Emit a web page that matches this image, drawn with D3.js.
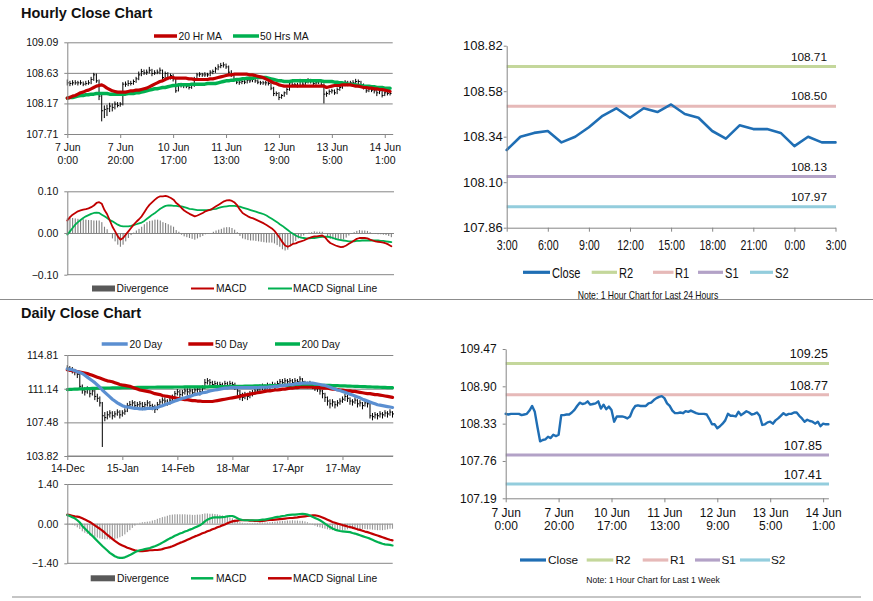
<!DOCTYPE html>
<html><head><meta charset="utf-8">
<script src="https://cdn.jsdelivr.net/npm/d3@7"></script>
<style>
body{margin:0;background:#fff;}
svg text{font-family:"Liberation Sans",Arial,sans-serif;fill:#111;}
</style></head><body>
<script>
// ---------------- DATA ----------------
const hourTickIdx = [0,20,40,60,80,100,120];
const hourTickLabels = [["7 Jun","0:00"],["7 Jun","20:00"],["10 Jun","17:00"],["11 Jun","13:00"],["12 Jun","9:00"],["13 Jun","5:00"],["14 Jun","1:00"]];
const dayTickIdx = [0,22,44,66,88,110];
const dayTickLabels = ["14-Dec","15-Jan","14-Feb","18-Mar","17-Apr","17-May"];
const h24TickIdx = [0,3,6,9,12,15,18,21,24];
const h24TickLabels = ["3:00","6:00","9:00","12:00","15:00","18:00","21:00","0:00","3:00"];

const hourlyYTicks = [107.71,108.17,108.63,109.09];
const hourlyMacdTicks = [-0.10,0.00,0.10];
const h24YTicks = [107.86,108.10,108.34,108.58,108.82];
const weekYTicks = [107.19,107.76,108.33,108.90,109.47];
const dailyYTicks = [103.82,107.48,111.14,114.81];
const dailyMacdTicks = [-1.40,0.00,1.40];

const levelNames = ["R2","R1","S1","S2"];
const levels24 = [108.71,108.50,108.13,107.97];
const levelsWeek = [109.25,108.77,107.85,107.41];

const hourlyClose = [108.48,108.47,108.48,108.48,108.48,108.48,108.46,108.47,108.48,108.53,
108.60,108.51,108.28,108.06,108.08,108.09,108.13,108.11,108.16,108.14,
108.16,108.46,108.46,108.47,108.47,108.50,108.54,108.60,108.65,108.63,
108.64,108.67,108.62,108.63,108.64,108.67,108.56,108.62,108.55,108.59,
108.54,108.36,108.44,108.44,108.44,108.43,108.41,108.44,108.54,108.60,
108.61,108.60,108.60,108.60,108.64,108.65,108.69,108.72,108.74,108.75,
108.72,108.64,108.60,108.53,108.49,108.49,108.50,108.49,108.52,108.51,
108.53,108.51,108.49,108.48,108.48,108.48,108.47,108.40,108.32,108.32,
108.26,108.29,108.33,108.38,108.48,108.45,108.45,108.44,108.51,108.46,
108.49,108.52,108.50,108.47,108.48,108.50,108.45,108.31,108.32,108.35,
108.36,108.33,108.38,108.41,108.45,108.49,108.46,108.48,108.48,108.50,
108.50,108.45,108.41,108.36,108.39,108.37,108.36,108.33,108.36,108.29,
108.33,108.32,108.32];
const hourlyHigh = [108.53,108.51,108.52,108.52,108.51,108.52,108.50,108.51,108.52,108.57,
108.63,108.62,108.53,108.30,108.14,108.15,108.18,108.17,108.20,108.19,
108.19,108.49,108.50,108.52,108.51,108.53,108.57,108.65,108.69,108.68,
108.68,108.72,108.69,108.67,108.68,108.71,108.68,108.65,108.64,108.62,
108.61,108.56,108.47,108.48,108.47,108.46,108.45,108.47,108.57,108.63,
108.64,108.63,108.64,108.63,108.67,108.68,108.72,108.76,108.78,108.79,
108.77,108.74,108.67,108.62,108.55,108.52,108.53,108.53,108.55,108.54,
108.56,108.55,108.53,108.51,108.51,108.51,108.50,108.49,108.42,108.35,
108.34,108.31,108.35,108.41,108.51,108.50,108.48,108.48,108.54,108.53,
108.52,108.55,108.54,108.52,108.51,108.53,108.52,108.47,108.35,108.38,
108.39,108.38,108.41,108.44,108.48,108.52,108.51,108.51,108.52,108.54,
108.53,108.51,108.47,108.43,108.42,108.40,108.40,108.38,108.39,108.37,
108.35,108.35,108.35];
const hourlyLow = [108.44,108.43,108.44,108.45,108.44,108.45,108.43,108.44,108.45,108.46,
108.51,108.48,108.22,107.90,107.95,107.98,108.04,108.05,108.08,108.11,
108.12,108.14,108.42,108.43,108.44,108.45,108.48,108.52,108.58,108.60,
108.60,108.62,108.58,108.60,108.61,108.61,108.53,108.54,108.52,108.53,
108.50,108.33,108.35,108.41,108.40,108.40,108.38,108.39,108.42,108.52,
108.57,108.57,108.57,108.57,108.58,108.61,108.63,108.67,108.70,108.71,
108.69,108.61,108.57,108.50,108.46,108.45,108.46,108.46,108.47,108.48,
108.49,108.48,108.46,108.45,108.45,108.44,108.44,108.37,108.28,108.28,
108.22,108.24,108.27,108.30,108.36,108.43,108.42,108.41,108.42,108.44,
108.45,108.47,108.47,108.44,108.45,108.46,108.42,108.17,108.27,108.30,
108.32,108.30,108.31,108.36,108.39,108.43,108.43,108.44,108.45,108.46,
108.46,108.42,108.38,108.33,108.34,108.34,108.32,108.28,108.31,108.26,
108.28,108.29,108.29];
const hourlyMA20 = [108.25,108.26,108.28,108.29,108.31,108.33,108.34,108.36,108.37,108.39,
108.41,108.43,108.44,108.45,108.43,108.40,108.38,108.36,108.35,108.34,
108.34,108.34,108.34,108.35,108.36,108.36,108.37,108.37,108.38,108.39,
108.40,108.42,108.44,108.46,108.48,108.50,108.51,108.53,108.55,108.56,
108.56,108.55,108.55,108.55,108.55,108.55,108.54,108.54,108.53,108.53,
108.53,108.53,108.53,108.53,108.54,108.54,108.55,108.56,108.57,108.58,
108.59,108.60,108.60,108.61,108.61,108.61,108.61,108.61,108.61,108.60,
108.60,108.59,108.58,108.57,108.56,108.54,108.52,108.50,108.48,108.47,
108.45,108.44,108.43,108.43,108.43,108.43,108.43,108.43,108.43,108.43,
108.43,108.43,108.43,108.43,108.43,108.43,108.43,108.43,108.41,108.42,
108.43,108.44,108.44,108.44,108.45,108.45,108.45,108.45,108.44,108.43,
108.43,108.42,108.41,108.41,108.40,108.40,108.39,108.39,108.38,108.38,
108.37,108.36,108.35];
const hourlyMA50 = [108.25,108.26,108.26,108.27,108.28,108.29,108.29,108.30,108.30,108.31,
108.31,108.32,108.32,108.32,108.32,108.32,108.31,108.31,108.31,108.31,
108.31,108.31,108.31,108.32,108.32,108.32,108.33,108.33,108.34,108.35,
108.36,108.37,108.38,108.39,108.39,108.40,108.41,108.41,108.42,108.43,
108.44,108.44,108.45,108.45,108.45,108.45,108.45,108.46,108.46,108.46,
108.46,108.46,108.46,108.47,108.47,108.47,108.47,108.48,108.49,108.50,
108.51,108.51,108.52,108.52,108.53,108.53,108.54,108.54,108.55,108.55,
108.55,108.56,108.56,108.56,108.56,108.56,108.55,108.54,108.53,108.52,
108.51,108.51,108.50,108.50,108.50,108.51,108.51,108.51,108.51,108.51,
108.51,108.51,108.51,108.51,108.51,108.51,108.51,108.50,108.50,108.50,
108.50,108.49,108.49,108.48,108.48,108.47,108.46,108.46,108.45,108.45,
108.44,108.44,108.43,108.43,108.43,108.42,108.42,108.41,108.41,108.41,
108.40,108.40,108.40];
const hourlyMACD = [0.030,0.038,0.044,0.048,0.052,0.054,0.056,0.057,0.059,0.062,
0.066,0.072,0.074,0.070,0.055,0.045,0.030,0.015,0.004,-0.008,
-0.016,-0.012,-0.004,0.004,0.012,0.020,0.027,0.033,0.040,0.050,
0.060,0.068,0.074,0.080,0.085,0.088,0.088,0.089,0.087,0.084,
0.080,0.072,0.067,0.060,0.054,0.050,0.046,0.043,0.040,0.042,
0.045,0.048,0.052,0.054,0.056,0.060,0.064,0.068,0.072,0.076,
0.078,0.079,0.077,0.073,0.066,0.056,0.048,0.044,0.040,0.037,
0.035,0.032,0.029,0.026,0.023,0.019,0.015,0.011,0.005,-0.003,
-0.012,-0.022,-0.030,-0.033,-0.030,-0.026,-0.025,-0.022,-0.020,-0.018,
-0.015,-0.012,-0.010,-0.008,-0.008,-0.007,-0.006,-0.010,-0.018,-0.024,
-0.027,-0.030,-0.032,-0.034,-0.033,-0.030,-0.026,-0.022,-0.018,-0.014,
-0.012,-0.012,-0.012,-0.013,-0.016,-0.018,-0.020,-0.021,-0.022,-0.023,
-0.025,-0.028,-0.032];
const hourlySignal = [-0.004,0.004,0.012,0.020,0.026,0.031,0.036,0.040,0.043,0.046,
0.048,0.049,0.048,0.044,0.040,0.036,0.031,0.028,0.024,0.020,
0.017,0.016,0.016,0.016,0.017,0.019,0.021,0.023,0.025,0.029,
0.034,0.039,0.044,0.048,0.053,0.058,0.062,0.065,0.066,0.066,
0.065,0.065,0.064,0.064,0.062,0.060,0.058,0.057,0.056,0.055,
0.055,0.055,0.055,0.055,0.056,0.057,0.058,0.060,0.062,0.063,
0.064,0.065,0.065,0.065,0.064,0.063,0.061,0.059,0.057,0.055,
0.053,0.051,0.049,0.047,0.045,0.042,0.038,0.034,0.030,0.026,
0.021,0.017,0.012,0.007,0.002,-0.002,-0.006,-0.009,-0.011,-0.012,
-0.013,-0.013,-0.012,-0.012,-0.011,-0.010,-0.009,-0.009,-0.009,-0.010,
-0.012,-0.014,-0.016,-0.017,-0.018,-0.019,-0.020,-0.020,-0.020,-0.019,
-0.019,-0.018,-0.018,-0.018,-0.018,-0.018,-0.018,-0.018,-0.019,-0.019,
-0.020,-0.021,-0.022];
const hourlyDiv = [0.035,0.036,0.036,0.035,0.034,0.033,0.033,0.032,0.031,0.031,
0.030,0.030,0.030,0.026,0.015,0.009,-0.001,-0.013,-0.020,-0.028,
-0.033,-0.028,-0.020,-0.012,-0.005,0.001,0.006,0.010,0.015,0.021,
0.026,0.029,0.030,0.032,0.032,0.030,0.026,0.024,0.021,0.018,
0.015,0.007,0.003,-0.004,-0.008,-0.010,-0.012,-0.014,-0.016,-0.013,
-0.010,-0.007,-0.003,-0.001,0.000,0.003,0.006,0.008,0.010,0.013,
0.014,0.014,0.012,0.008,0.002,-0.007,-0.013,-0.015,-0.017,-0.018,
-0.018,-0.019,-0.020,-0.021,-0.022,-0.023,-0.023,-0.023,-0.025,-0.029,
-0.033,-0.039,-0.042,-0.040,-0.032,-0.024,-0.019,-0.013,-0.009,-0.006,
-0.002,0.001,0.002,0.004,0.003,0.003,0.003,-0.001,-0.009,-0.014,
-0.015,-0.016,-0.016,-0.017,-0.015,-0.011,-0.006,-0.002,0.002,0.005,
0.007,0.006,0.006,0.005,0.002,0.000,-0.002,-0.003,-0.003,-0.004,
-0.005,-0.007,-0.010];

const close24 = [108.27,108.34,108.36,108.37,108.31,108.34,108.39,108.45,108.49,108.44,
108.49,108.47,108.51,108.46,108.44,108.37,108.33,108.40,108.38,108.38,
108.36,108.29,108.34,108.31,108.31];

const dailyHigh = [113.7,113.6,113.5,113.3,113.1,112.8,111.6,111.3,111.4,111.3,
111.2,111.0,110.6,110.3,109.7,108.6,108.7,108.8,108.7,108.7,
108.9,108.8,108.8,109.0,109.6,109.8,109.9,109.8,109.7,109.8,
109.7,109.7,109.9,109.8,109.5,109.4,109.7,110.0,110.2,110.2,
110.0,110.2,110.5,110.9,111.1,111.0,111.0,111.2,111.2,111.2,
111.1,111.3,111.4,111.3,111.5,112.2,112.3,112.2,112.0,112.0,
111.9,111.9,111.8,112.0,111.9,112.0,111.9,111.8,111.5,111.0,
110.7,110.8,110.7,110.9,111.0,111.2,111.3,111.6,111.7,111.6,
111.8,111.7,111.9,111.8,112.0,112.2,112.2,112.3,112.2,112.3,
112.2,112.3,112.2,112.5,112.3,112.0,111.9,112.0,111.8,111.7,
111.5,111.3,111.0,110.7,110.3,110.0,110.0,109.8,109.9,110.1,
110.3,110.6,110.5,110.2,110.0,110.2,110.0,109.9,109.7,109.9,
109.8,109.6,108.5,108.6,108.5,108.7,108.6,108.8,108.7,108.9,
108.7];
const dailyLow = [113.1,113.0,112.8,112.6,112.3,111.1,110.6,110.4,110.6,110.2,
110.4,109.9,109.7,109.2,104.8,107.6,107.8,108.0,107.8,108.0,
108.2,107.9,108.1,108.3,108.6,109.0,109.2,108.9,109.0,109.1,
108.8,109.0,109.2,108.9,108.8,108.5,108.8,109.3,109.5,109.4,
109.3,109.4,109.8,110.0,110.4,110.2,110.3,110.5,110.4,110.5,
110.3,110.5,110.7,110.4,110.7,111.1,111.6,111.5,111.3,111.3,
111.1,111.2,111.0,111.2,111.1,111.3,111.2,111.0,110.4,109.9,
109.8,110.0,109.9,110.1,110.3,110.5,110.6,110.8,111.0,110.9,
111.1,111.0,111.2,111.1,111.3,111.5,111.5,111.6,111.6,111.7,
111.5,111.6,111.6,111.8,111.5,111.3,111.2,111.3,111.1,110.9,
110.8,110.5,110.1,109.7,109.3,109.0,109.2,109.0,109.2,109.4,
109.6,109.8,109.7,109.4,109.3,109.5,109.1,109.2,108.9,109.2,
109.1,107.9,107.7,107.9,107.8,108.0,107.9,108.1,108.0,108.2,
108.0];
const dailyClose = [113.4,113.3,113.1,112.9,112.7,111.4,111.0,110.8,111.1,110.6,
110.9,110.3,110.1,109.6,108.2,108.0,108.3,108.5,108.2,108.4,
108.6,108.3,108.5,108.7,109.3,109.4,109.6,109.3,109.4,109.5,
109.2,109.4,109.6,109.3,109.2,108.9,109.4,109.7,109.9,109.8,
109.6,109.9,110.2,110.6,110.8,110.5,110.7,110.9,110.8,110.9,
110.7,111.0,111.1,110.8,111.2,111.8,112.0,111.8,111.6,111.7,
111.5,111.6,111.4,111.7,111.5,111.7,111.6,111.4,110.9,110.5,
110.2,110.5,110.3,110.6,110.7,110.9,111.0,111.3,111.4,111.2,
111.5,111.3,111.6,111.4,111.7,111.9,111.8,112.0,111.9,112.0,
111.8,112.0,111.9,112.2,111.9,111.7,111.6,111.7,111.5,111.3,
111.2,110.9,110.6,110.2,109.8,109.5,109.7,109.4,109.6,109.8,
110.0,110.3,110.1,109.8,109.7,109.9,109.5,109.6,109.3,109.6,
109.5,108.2,108.1,108.3,108.2,108.4,108.3,108.5,108.4,108.6,
108.4];
const dailyMA20 = [113.3,113.25,113.2,113.1,113.0,112.9,112.8,112.6,112.4,112.2,
112.0,111.8,111.55,111.3,111.0,110.75,110.5,110.25,110.0,109.8,
109.6,109.45,109.3,109.2,109.15,109.1,109.05,109.0,109.0,108.95,
108.95,108.95,109.0,109.0,109.0,109.05,109.1,109.2,109.3,109.4,
109.5,109.6,109.7,109.8,109.9,110.0,110.1,110.15,110.25,110.3,
110.4,110.5,110.55,110.6,110.7,110.75,110.8,110.9,110.95,111.0,
111.05,111.1,111.15,111.2,111.2,111.25,111.25,111.25,111.25,111.25,
111.25,111.25,111.25,111.25,111.25,111.25,111.25,111.3,111.3,111.3,
111.3,111.35,111.35,111.4,111.4,111.45,111.5,111.5,111.55,111.6,
111.6,111.65,111.7,111.7,111.75,111.75,111.75,111.75,111.75,111.7,
111.65,111.6,111.55,111.5,111.4,111.3,111.2,111.1,111.0,110.95,
110.85,110.75,110.65,110.55,110.45,110.35,110.25,110.15,110.0,109.9,
109.8,109.7,109.6,109.5,109.4,109.35,109.3,109.25,109.2,109.15,
109.1];
const dailyMA50 = [113.2,113.15,113.1,113.05,113.0,112.95,112.9,112.85,112.8,112.7,
112.6,112.5,112.4,112.3,112.2,112.1,112.0,111.95,111.9,111.8,
111.7,111.6,111.55,111.5,111.45,111.4,111.3,111.2,111.1,111.0,
110.95,110.9,110.85,110.8,110.7,110.6,110.55,110.5,110.4,110.35,
110.3,110.25,110.2,110.15,110.1,110.05,110.0,109.95,109.95,109.9,
109.85,109.85,109.8,109.8,109.75,109.75,109.75,109.75,109.75,109.8,
109.85,109.9,109.95,110.0,110.05,110.1,110.15,110.2,110.25,110.3,
110.4,110.45,110.5,110.55,110.6,110.65,110.7,110.75,110.8,110.85,
110.9,110.9,110.95,111.0,111.0,111.05,111.1,111.1,111.15,111.2,
111.2,111.25,111.25,111.3,111.3,111.3,111.3,111.3,111.3,111.25,
111.25,111.25,111.2,111.2,111.2,111.15,111.1,111.1,111.05,111.0,
111.0,110.95,110.9,110.9,110.85,110.85,110.8,110.75,110.7,110.65,
110.6,110.6,110.55,110.5,110.5,110.45,110.4,110.35,110.3,110.25,
110.2];
const dailyMA200 = [111.05,111.07,111.08,111.10,111.10,111.12,111.13,111.14,111.15,111.16,
111.17,111.18,111.19,111.20,111.20,111.21,111.22,111.22,111.23,111.23,
111.24,111.24,111.25,111.25,111.26,111.26,111.27,111.27,111.28,111.28,
111.29,111.29,111.29,111.30,111.30,111.30,111.31,111.31,111.31,111.32,
111.32,111.32,111.32,111.33,111.33,111.33,111.33,111.34,111.34,111.34,
111.34,111.34,111.35,111.35,111.35,111.35,111.35,111.36,111.36,111.36,
111.36,111.37,111.37,111.38,111.38,111.39,111.39,111.40,111.40,111.41,
111.41,111.42,111.42,111.43,111.43,111.44,111.44,111.45,111.45,111.46,
111.46,111.47,111.47,111.48,111.48,111.49,111.50,111.50,111.51,111.51,
111.52,111.52,111.53,111.53,111.54,111.54,111.54,111.54,111.54,111.53,
111.53,111.52,111.52,111.51,111.50,111.50,111.49,111.48,111.47,111.46,
111.45,111.44,111.43,111.42,111.41,111.40,111.39,111.38,111.37,111.36,
111.35,111.34,111.33,111.32,111.31,111.30,111.29,111.28,111.27,111.26,
111.25];
const dailyMACD = [0.30,0.27,0.23,0.19,0.12,0.04,-0.08,-0.17,-0.26,-0.35,
-0.43,-0.52,-0.61,-0.70,-0.79,-0.87,-0.95,-1.03,-1.09,-1.15,
-1.19,-1.21,-1.21,-1.19,-1.15,-1.11,-1.06,-1.01,-0.97,-0.94,
-0.92,-0.90,-0.88,-0.86,-0.83,-0.80,-0.76,-0.72,-0.67,-0.62,
-0.57,-0.52,-0.48,-0.43,-0.39,-0.35,-0.32,-0.28,-0.25,-0.21,
-0.18,-0.14,-0.10,-0.06,0.00,0.08,0.14,0.18,0.21,0.22,
0.22,0.22,0.23,0.24,0.26,0.27,0.27,0.24,0.19,0.15,
0.13,0.12,0.12,0.12,0.12,0.12,0.12,0.13,0.14,0.14,
0.16,0.18,0.20,0.22,0.24,0.25,0.27,0.28,0.30,0.31,
0.32,0.32,0.33,0.34,0.35,0.34,0.32,0.29,0.24,0.20,
0.16,0.12,0.06,0.00,-0.06,-0.12,-0.17,-0.21,-0.24,-0.26,
-0.27,-0.28,-0.29,-0.30,-0.33,-0.35,-0.38,-0.41,-0.44,-0.47,
-0.50,-0.53,-0.57,-0.61,-0.65,-0.68,-0.71,-0.73,-0.74,-0.75,
-0.77];
const dailySignal = [0.32,0.30,0.28,0.26,0.25,0.23,0.19,0.15,0.10,0.06,
0.00,-0.06,-0.12,-0.18,-0.25,-0.32,-0.40,-0.47,-0.54,-0.61,
-0.67,-0.73,-0.77,-0.81,-0.85,-0.88,-0.91,-0.94,-0.96,-0.97,
-0.97,-0.96,-0.95,-0.94,-0.94,-0.93,-0.93,-0.92,-0.90,-0.87,
-0.85,-0.83,-0.80,-0.76,-0.72,-0.68,-0.65,-0.61,-0.57,-0.53,
-0.49,-0.45,-0.42,-0.38,-0.34,-0.31,-0.27,-0.24,-0.20,-0.17,
-0.13,-0.10,-0.06,-0.03,0.01,0.05,0.08,0.10,0.11,0.12,
0.12,0.12,0.12,0.11,0.11,0.10,0.10,0.09,0.10,0.11,
0.12,0.13,0.13,0.14,0.15,0.16,0.17,0.18,0.19,0.20,
0.20,0.21,0.22,0.24,0.25,0.26,0.27,0.28,0.29,0.29,
0.28,0.25,0.22,0.18,0.14,0.10,0.06,0.03,0.00,-0.02,
-0.05,-0.07,-0.10,-0.12,-0.14,-0.17,-0.20,-0.22,-0.25,-0.28,
-0.30,-0.33,-0.36,-0.39,-0.42,-0.45,-0.48,-0.51,-0.54,-0.57,
-0.59];
const dailyDiv = [-0.02,-0.03,-0.05,-0.07,-0.13,-0.19,-0.27,-0.32,-0.36,-0.41,
-0.43,-0.46,-0.49,-0.52,-0.54,-0.55,-0.55,-0.56,-0.55,-0.54,
-0.52,-0.48,-0.44,-0.38,-0.30,-0.23,-0.15,-0.07,-0.01,0.03,
0.05,0.06,0.07,0.08,0.11,0.13,0.17,0.20,0.23,0.25,
0.28,0.31,0.32,0.33,0.33,0.33,0.33,0.33,0.32,0.32,
0.31,0.31,0.32,0.32,0.34,0.36,0.36,0.35,0.35,0.34,
0.33,0.31,0.29,0.27,0.25,0.22,0.19,0.14,0.09,0.05,
0.03,0.02,0.02,0.02,0.02,0.03,0.03,0.04,0.04,0.04,
0.04,0.05,0.06,0.07,0.08,0.09,0.10,0.10,0.11,0.11,
0.12,0.11,0.11,0.10,0.10,0.08,0.05,0.02,-0.03,-0.07,
-0.11,-0.13,-0.16,-0.18,-0.20,-0.22,-0.23,-0.24,-0.24,-0.24,
-0.23,-0.22,-0.20,-0.18,-0.19,-0.19,-0.19,-0.19,-0.19,-0.19,
-0.20,-0.20,-0.21,-0.22,-0.23,-0.23,-0.23,-0.22,-0.20,-0.18,
-0.18];

// ---------------- STYLE ----------------
const GRID = "#868686";
const RED = "#c00000", GREEN = "#00b050", BLUE = "#5b8fd1", CLOSE = "#1f6eb4", DIVC = "#7f7f7f";
const levelColors = ["#c4d79b","#e6b9b8","#b3a2c7","#93cddd"];

const svg = d3.select("body").append("svg").attr("width",873).attr("height",601);

function styleAxis(g, fs){
  g.attr("font-family",null).attr("font-size",null);
  g.select(".domain").attr("stroke",GRID);
  g.selectAll(".tick line").attr("stroke",GRID);
  g.selectAll(".tick text").attr("fill","#111").style("font-size",fs+"px");
}
function leftAxis(y, x0, ticks, fmt, fs, pad){
  const g = svg.append("g").attr("transform",`translate(${x0},0)`)
    .call(d3.axisLeft(y).tickValues(ticks).tickFormat(fmt).tickSize(3).tickSizeOuter(0).tickPadding(pad===undefined?6:pad));
  styleAxis(g, fs);
  return g;
}
function gridLines(y, x0, x1, vals){
  const g = svg.append("g").attr("transform",`translate(${x0},0)`)
    .call(d3.axisLeft(y).tickValues(vals).tickSize(-(x1-x0)).tickFormat(()=>"").tickSizeOuter(0));
  g.select(".domain").remove();
  g.selectAll("line").attr("stroke",GRID);
}
function bottomAxis(x, yPos, ticks, labels, fs, lh, pad){
  const g = svg.append("g").attr("transform",`translate(0,${yPos})`)
    .call(d3.axisBottom(x).tickValues(ticks).tickSize(4).tickSizeOuter(0).tickPadding(pad).tickFormat(()=>""));
  styleAxis(g, fs);
  g.selectAll(".tick text").attr("dy",null).each(function(d,i){
    const t = d3.select(this);
    const lab = labels[i];
    const lines = Array.isArray(lab) ? lab : [lab];
    lines.forEach((s,k)=> t.append("tspan").attr("x",0).attr("dy", k===0 ? "0.71em" : lh).text(s));
  });
  return g;
}
function drawLine(x, y, data, color, w){
  svg.append("path").datum(data).attr("fill","none").attr("stroke",color).attr("stroke-width",w)
    .attr("stroke-linejoin","round").attr("stroke-linecap","round")
    .attr("d", d3.line().x((d,i)=>x(i)).y(d=>y(d)));
}
function ohlc(x, y, hi, lo, cl){
  const g = svg.append("g");
  g.selectAll("line.hl").data(hi).join("line").attr("class","hl")
    .attr("x1",(d,i)=>x(i)).attr("x2",(d,i)=>x(i))
    .attr("y1",d=>y(d)).attr("y2",(d,i)=>y(lo[i])).attr("stroke","#000").attr("stroke-width",1);
  g.selectAll("line.cl").data(cl).join("line").attr("class","cl")
    .attr("x1",(d,i)=>x(i)).attr("x2",(d,i)=>x(i)+1.5)
    .attr("y1",d=>y(d)).attr("y2",d=>y(d)).attr("stroke","#000").attr("stroke-width",1);
}
function histo(x, y, data, color, w){
  svg.append("g").selectAll("rect").data(data).join("rect")
    .attr("x",(d,i)=>x(i)-w/2).attr("width",w)
    .attr("y",d=>Math.min(y(d),y(0))).attr("height",d=>Math.abs(y(d)-y(0)))
    .attr("fill",color);
}
function label(x, y, s, fs, anchor, opts={}){
  const t = svg.append("text").attr("x",x).attr("y",y).style("font-size",fs+"px")
    .attr("text-anchor",anchor||"start").text(s);
  if(opts.bold) t.style("font-weight","bold");
  return t;
}
function legLine(x1, x2, y, color, w, text, tx, fs){
  svg.append("line").attr("x1",x1).attr("x2",x2).attr("y1",y).attr("y2",y).attr("stroke",color).attr("stroke-width",w);
  label(tx, y+fs*0.36, text, fs);
}
function legRect(x1, x2, y, color, text, tx, fs){
  svg.append("rect").attr("x",x1).attr("y",y-3).attr("width",x2-x1).attr("height",6).attr("fill",color);
  label(tx, y+fs*0.36, text, fs);
}
const f2 = d3.format(".2f");

// ---------------- TITLES & SEPARATORS ----------------
label(21, 18, "Hourly Close Chart", 14.5, "start", {bold:true});
label(21, 318, "Daily Close Chart", 14.5, "start", {bold:true});
svg.append("line").attr("x1",0).attr("x2",873).attr("y1",299.5).attr("y2",299.5).attr("stroke","#8c8c8c").attr("stroke-width",1.2);
svg.append("line").attr("x1",12).attr("x2",861).attr("y1",597).attr("y2",597).attr("stroke","#8c8c8c").attr("stroke-width",1.2);

// ---------------- PANEL 1: hourly close ----------------
{
  const x = d3.scaleLinear().domain([0,123]).range([67.3,392.7]);
  const y = d3.scaleLinear().domain([107.71,109.09]).range([134,42.3]);
  gridLines(y, 67.3, 392.7, [108.17,108.63,109.09]);
  ohlc(x, y, hourlyHigh, hourlyLow, hourlyClose);
  drawLine(x, y, hourlyMA50, GREEN, 3.5);
  drawLine(x, y, hourlyMA20, RED, 3.2);
  leftAxis(y, 67.3, hourlyYTicks, f2, 10.5);
  bottomAxis(x, 134, hourTickIdx, hourTickLabels, 10.5, 12.5, 6);
  legLine(154, 177, 36, RED, 3.5, "20 Hr MA", 178.5, 10.3);
  legLine(233, 259, 36, GREEN, 3.5, "50 Hrs MA", 260, 10.3);
}

// ---------------- PANEL 2: hourly MACD ----------------
{
  const x = d3.scaleLinear().domain([0,123]).range([67.3,394]);
  const y = d3.scaleLinear().domain([-0.10,0.10]).range([274.7,191.3]);
  gridLines(y, 67.3, 394, [0,0.10]);
  histo(x, y, hourlyDiv, DIVC, 1.1);
  drawLine(x, y, hourlySignal, GREEN, 1.8);
  drawLine(x, y, hourlyMACD, RED, 1.8);
  leftAxis(y, 67.3, hourlyMacdTicks, f2, 10.5);
  svg.append("line").attr("x1",67.3).attr("x2",394).attr("y1",274.7).attr("y2",274.7).attr("stroke",GRID);
  legRect(92, 115, 288.5, "#595959", "Divergence", 116.5, 10.3);
  legLine(191, 214, 288.5, RED, 2, "MACD", 216, 10.3);
  legLine(268, 292, 288.5, GREEN, 2, "MACD Signal Line", 293, 10.3);
}

// ---------------- PANEL 3: last 24 hours ----------------
{
  const x = d3.scaleLinear().domain([0,24]).range([506.7,835.5]);
  const y = d3.scaleLinear().domain([107.86,108.82]).range([227.7,45.7]);
  levels24.forEach((v,k)=>{
    svg.append("line").attr("x1",506.7).attr("x2",836).attr("y1",y(v)).attr("y2",y(v))
      .attr("stroke",levelColors[k]).attr("stroke-width",3);
    label(827, y(v)-6, f2(v), 11.8, "end");
  });
  drawLine(x, y, close24, CLOSE, 2.6);
  leftAxis(y, 506.7, h24YTicks, f2, 13, 1);
  const ax = bottomAxis(x, 227.7, h24TickIdx, h24TickLabels, 14, 14, 8);
  ax.selectAll(".tick text").attr("transform","scale(0.76,1)");
  const items = [["Close",CLOSE,523,550,552],["R2",levelColors[0],591.7,617,619],["R1",levelColors[1],653,673.5,675],["S1",levelColors[2],698,723,725],["S2",levelColors[3],750,773,775]];
  items.forEach(([t,c,a,b,tx])=>{
    svg.append("line").attr("x1",a).attr("x2",b).attr("y1",272.3).attr("y2",272.3).attr("stroke",c).attr("stroke-width",3.2);
    svg.append("text").attr("transform",`translate(${tx},277.5) scale(0.74,1)`).style("font-size","15px").text(t);
  });
  svg.append("text").attr("transform","translate(648,299) scale(0.82,1)").attr("text-anchor","middle").style("font-size","10.5px").text("Note: 1 Hour Chart for Last 24 Hours");
}

// ---------------- PANEL 4: daily close ----------------
{
  const x = d3.scaleLinear().domain([0,130]).range([67.3,392.5]);
  const y = d3.scaleLinear().domain([103.82,114.81]).range([456,355]);
  gridLines(y, 67.3, 393.3, [107.48,111.14,114.81]);
  ohlc(x, y, dailyHigh, dailyLow, dailyClose);
  drawLine(x, y, dailyMA200, GREEN, 3.2);
  drawLine(x, y, dailyMA50, RED, 3.2);
  drawLine(x, y, dailyMA20, BLUE, 3.2);
  leftAxis(y, 67.3, dailyYTicks, f2, 10.5);
  svg.append("line").attr("x1",67.3).attr("x2",393.3).attr("y1",456).attr("y2",456).attr("stroke",GRID);
  bottomAxis(x, 456, dayTickIdx, dayTickLabels, 10.5, 12, 5);
  legLine(101.7, 127.7, 344, BLUE, 3.5, "20 Day", 129.5, 10.3);
  legLine(188.3, 213.3, 344, RED, 3.5, "50 Day", 215, 10.3);
  legLine(275, 300, 344, GREEN, 3.5, "200 Day", 301.5, 10.3);
}

// ---------------- PANEL 5: daily MACD ----------------
{
  const x = d3.scaleLinear().domain([0,130]).range([67.3,392.5]);
  const y = d3.scaleLinear().domain([-1.40,1.40]).range([563.3,484]);
  gridLines(y, 67.3, 392.7, [0,1.40]);
  histo(x, y, dailyDiv, "#9a9a9a", 1.1);
  drawLine(x, y, dailySignal, RED, 2.2);
  drawLine(x, y, dailyMACD, GREEN, 2.2);
  leftAxis(y, 67.3, dailyMacdTicks, f2, 10.5);
  svg.append("line").attr("x1",67.3).attr("x2",392.7).attr("y1",563.3).attr("y2",563.3).attr("stroke",GRID);
  legRect(90.7, 115, 578.3, "#595959", "Divergence", 117, 10.3);
  legLine(191, 213.3, 578.3, GREEN, 2.5, "MACD", 216, 10.3);
  legLine(268, 291.7, 578.3, RED, 2.5, "MACD Signal Line", 293, 10.3);
}

// ---------------- PANEL 6: last week hourly ----------------
{
  const x = d3.scaleLinear().domain([0,122]).range([505.7,828.4]);
  const y = d3.scaleLinear().domain([107.19,109.47]).range([498.3,349]);
  levelsWeek.forEach((v,k)=>{
    svg.append("line").attr("x1",505.7).attr("x2",829).attr("y1",y(v)).attr("y2",y(v))
      .attr("stroke",levelColors[k]).attr("stroke-width",3);
    label(k<2 ? 828 : 822, y(v)-5, f2(v), 12.5, "end");
  });
  drawLine(x, y, hourlyClose, CLOSE, 2.4);
  leftAxis(y, 505.7, weekYTicks, f2, 12);
  bottomAxis(x, 498.3, hourTickIdx, hourTickLabels, 12, 13.5, 6);
  const items = [["Close",CLOSE,520,546,548],["R2",levelColors[0],586.7,613.3,615.5],["R1",levelColors[1],642.7,668.3,670],["S1",levelColors[2],695,720,721.5],["S2",levelColors[3],740,770,771]];
  items.forEach(([t,c,a,b,tx])=>{
    svg.append("line").attr("x1",a).attr("x2",b).attr("y1",560).attr("y2",560).attr("stroke",c).attr("stroke-width",3.2);
    label(tx, 564.2, t, 11.8);
  });
  svg.append("text").attr("transform","translate(653,582.5) scale(0.9,1)").attr("text-anchor","middle").style("font-size","9.5px").text("Note: 1 Hour Chart for Last 1 Week");
}
</script>
</body></html>
